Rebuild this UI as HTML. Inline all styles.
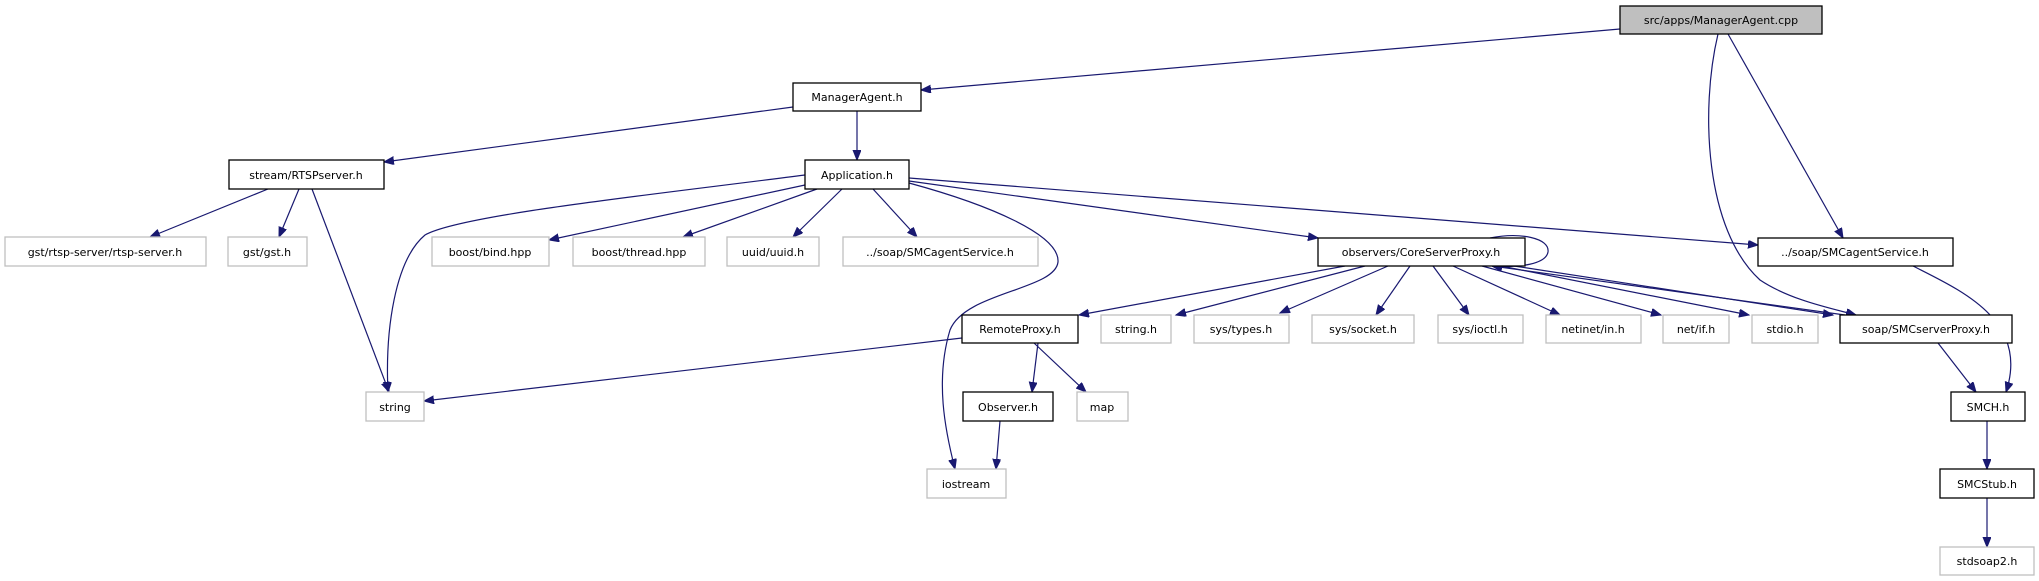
<!DOCTYPE html>
<html><head><meta charset="utf-8"><style>
html,body{margin:0;padding:0;background:#fff;}
svg{display:block;}
text{font-family:"DejaVu Sans","Liberation Sans",sans-serif;font-size:11px;fill:#000;}
.e{fill:none;stroke:#191970;stroke-width:1.2;}
.b{fill:#fff;stroke:#000;stroke-width:1.3;}
.g{fill:#fff;stroke:#bfbfbf;stroke-width:1.3;}
</style></head><body>
<svg width="2039" height="581" viewBox="0 0 2039 581" xmlns="http://www.w3.org/2000/svg">
<defs>
<marker id="a" markerUnits="userSpaceOnUse" markerWidth="12" markerHeight="10" refX="10" refY="4" orient="auto">
<path d="M0,0 L10,4 L0,8 z" fill="#191970" stroke="#191970"/>
</marker>
</defs>
<g marker-end="url(#a)">
<path class="e" d="M1620,29 L921,90"/>
<path class="e" d="M1718,34 C1700,110 1705,230 1760,280 C1790,300 1830,308 1856,315"/>
<path class="e" d="M1728,34 L1843,238"/>
<path class="e" d="M793,107 L384,162"/>
<path class="e" d="M857,111 L857,160"/>
<path class="e" d="M268,189 L150,237"/>
<path class="e" d="M299,189 L279,237"/>
<path class="e" d="M312,189 L389,392"/>
<path class="e" d="M805,175 C650,195 460,215 425,235 C395,260 385,330 388,392"/>
<path class="e" d="M805,185 L549,240"/>
<path class="e" d="M817,189 L683,237"/>
<path class="e" d="M842,189 L793,237"/>
<path class="e" d="M873,189 L917,237"/>
<path class="e" d="M909,183 C990,205 1060,235 1058,262 C1055,290 965,292 950,330 C935,380 945,430 955,469"/>
<path class="e" d="M909,181 L1318,238"/>
<path class="e" d="M909,178 L1758,245"/>
<path class="e" d="M1490,238 C1520,232 1550,238 1548,252 C1546,264 1520,268 1492,266"/>
<path class="e" d="M1345,266 L1079,315"/>
<path class="e" d="M1365,266 L1176,315"/>
<path class="e" d="M1388,266 L1280,313"/>
<path class="e" d="M1410,266 L1376,315"/>
<path class="e" d="M1433,266 L1469,315"/>
<path class="e" d="M1453,266 L1560,315"/>
<path class="e" d="M1482,266 L1661,315"/>
<path class="e" d="M1501,266 L1749,315"/>
<path class="e" d="M1514,266 L1833,315"/>
<path class="e" d="M1845,315 L1492,266"/>
<path class="e" d="M1913,266 C1960,290 2030,320 2006,392"/>
<path class="e" d="M1938,343 L1976,392"/>
<path class="e" d="M962,338 L424,401"/>
<path class="e" d="M1038,343 L1032,392"/>
<path class="e" d="M1034,343 L1086,392"/>
<path class="e" d="M1000,421 L996,469"/>
<path class="e" d="M1987,421 L1987,469"/>
<path class="e" d="M1987,498 L1987,547"/>
</g>
<rect x="1620" y="6" width="202" height="28" fill="#bfbfbf" stroke="#000" stroke-width="1.3"/>
<text x="1721" y="24" text-anchor="middle">src/apps/ManagerAgent.cpp</text>
<rect class="b" x="793" y="83" width="128" height="28"/><text x="857" y="101" text-anchor="middle">ManagerAgent.h</text>
<rect class="b" x="229" y="160" width="155" height="29"/><text x="306" y="179" text-anchor="middle">stream/RTSPserver.h</text>
<rect class="b" x="805" y="160" width="104" height="29"/><text x="857" y="179" text-anchor="middle">Application.h</text>
<rect class="g" x="5" y="237" width="201" height="29"/><text x="105" y="256" text-anchor="middle">gst/rtsp-server/rtsp-server.h</text>
<rect class="g" x="228" y="237" width="79" height="29"/><text x="267" y="256" text-anchor="middle">gst/gst.h</text>
<rect class="g" x="432" y="237" width="117" height="29"/><text x="490" y="256" text-anchor="middle">boost/bind.hpp</text>
<rect class="g" x="573" y="237" width="132" height="29"/><text x="639" y="256" text-anchor="middle">boost/thread.hpp</text>
<rect class="g" x="727" y="237" width="92" height="29"/><text x="773" y="256" text-anchor="middle">uuid/uuid.h</text>
<rect class="g" x="843" y="237" width="195" height="29"/><text x="940" y="256" text-anchor="middle">../soap/SMCagentService.h</text>
<rect class="b" x="1318" y="238" width="207" height="28"/><text x="1421" y="256" text-anchor="middle">observers/CoreServerProxy.h</text>
<rect class="b" x="1758" y="238" width="195" height="28"/><text x="1855" y="256" text-anchor="middle">../soap/SMCagentService.h</text>
<rect class="b" x="962" y="315" width="116" height="28"/><text x="1020" y="333" text-anchor="middle">RemoteProxy.h</text>
<rect class="g" x="1101" y="315" width="70" height="28"/><text x="1136" y="333" text-anchor="middle">string.h</text>
<rect class="g" x="1194" y="315" width="95" height="28"/><text x="1241" y="333" text-anchor="middle">sys/types.h</text>
<rect class="g" x="1312" y="315" width="102" height="28"/><text x="1363" y="333" text-anchor="middle">sys/socket.h</text>
<rect class="g" x="1438" y="315" width="85" height="28"/><text x="1480" y="333" text-anchor="middle">sys/ioctl.h</text>
<rect class="g" x="1546" y="315" width="95" height="28"/><text x="1593" y="333" text-anchor="middle">netinet/in.h</text>
<rect class="g" x="1663" y="315" width="66" height="28"/><text x="1696" y="333" text-anchor="middle">net/if.h</text>
<rect class="g" x="1752" y="315" width="66" height="28"/><text x="1785" y="333" text-anchor="middle">stdio.h</text>
<rect class="b" x="1840" y="315" width="172" height="28"/><text x="1926" y="333" text-anchor="middle">soap/SMCserverProxy.h</text>
<rect class="g" x="366" y="392" width="58" height="29"/><text x="395" y="411" text-anchor="middle">string</text>
<rect class="b" x="963" y="392" width="90" height="29"/><text x="1008" y="411" text-anchor="middle">Observer.h</text>
<rect class="g" x="1077" y="392" width="51" height="29"/><text x="1102" y="411" text-anchor="middle">map</text>
<rect class="b" x="1951" y="392" width="74" height="29"/><text x="1988" y="411" text-anchor="middle">SMCH.h</text>
<rect class="g" x="927" y="469" width="79" height="29"/><text x="966" y="488" text-anchor="middle">iostream</text>
<rect class="b" x="1940" y="469" width="94" height="29"/><text x="1987" y="488" text-anchor="middle">SMCStub.h</text>
<rect class="g" x="1940" y="547" width="94" height="28"/><text x="1987" y="565" text-anchor="middle">stdsoap2.h</text>
</svg>
</body></html>
